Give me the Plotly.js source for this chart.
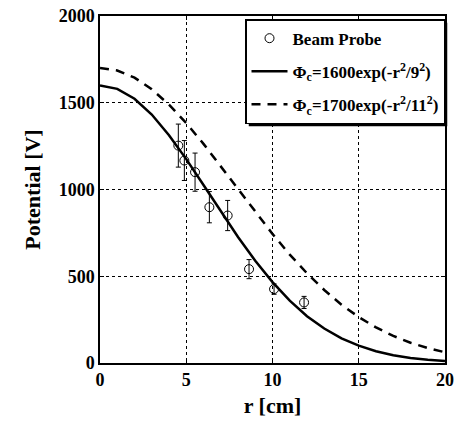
<!DOCTYPE html>
<html><head><meta charset="utf-8">
<script src="https://cdn.plot.ly/plotly-3.0.1.min.js"></script>
<style>
svg text { font-family: "Liberation Serif", "Times New Roman", serif !important; }
</style>
</head><body style="margin:0;background:#fff"><div id="c"></div>
<script>
// Beam probe measurements
const probeR = [4.54, 4.89, 5.51, 6.34, 7.40, 8.64, 10.09, 11.83];
const probeV = [1253, 1167, 1100, 898, 850, 541, 426, 349];
const probeErr = [124, 115, 110, 90, 87, 55, 30, 35];
// Fit curves (read at integer r)
const curveR = [0,1,2,3,4,5,6,7,8,9,10,11,12,13,14,15,16,17,18,19,20];
const fit1 = [1600,1580,1523,1432,1313,1175,1026,874,726,589,466,359,270,199,142,100,68,45,29,19,12];
const fit2 = [1700,1686,1645,1578,1489,1383,1263,1134,1002,870,744,625,517,421,336,265,205,156,117,86,62];
const names = ['<b>Beam Probe</b>',
  '<b>\u03A6<sub>c</sub>=1600exp(-r<sup>2</sup>/9<sup>2</sup>)</b>',
  '<b>\u03A6<sub>c</sub>=1700exp(-r<sup>2</sup>/11<sup>2</sup>)</b>'];
const xTicks = [0,5,10,15,20];
const xTickText = ['0','5','10','15','20'];
const yTicks = [0,500,1000,1500,2000];
const yTickText = ['0','500','1000','1500','2000'];

const FAM = 'Liberation Serif';
const bold = a => a.map(s => '<b>' + s + '</b>');
const traces = [
  {x: probeR, y: probeV, mode: 'markers', name: names[0], legendgroup: 'a',
   marker: {symbol: 'circle-open', size: 9, color: '#000', line: {width: 1, color: '#000'}},
   error_y: {type: 'data', array: probeErr, visible: true, color: '#000', thickness: 1, width: 2.5}},
  {x: curveR, y: fit1, mode: 'lines', name: names[1], legendgroup: 'b', line: {color: '#000', width: 2.5}},
  {x: curveR, y: fit2, mode: 'lines', name: names[2], legendgroup: 'c', line: {color: '#000', width: 2.5, dash: '9px,7px'}}
];
const mk = (extra) => Object.assign({
  showline: true, mirror: 'ticks', linecolor: '#000', linewidth: 1.5,
  ticks: 'inside', ticklen: 4, tickcolor: '#000',
  showgrid: true, gridcolor: '#000', gridwidth: 1, griddash: 'dot',
  zeroline: false, tickfont: {family: FAM, size: 18, color: '#000'}
}, extra);
const layout = {
  width: 460, height: 425,
  margin: {l: 100, r: 15, t: 16, b: 62},
  paper_bgcolor: '#fff', plot_bgcolor: '#fff',
  font: {family: FAM, size: 17, color: '#000'},
  showlegend: true,
  xaxis: mk({range: [0, 20], tickmode: 'array', tickvals: xTicks, ticktext: bold(xTickText),
    title: {text: '<b>r [cm]</b>', font: {family: FAM, size: 22, color: '#000'}, standoff: 8}}),
  yaxis: mk({range: [0, 2000], tickmode: 'array', tickvals: yTicks, ticktext: bold(yTickText),
    title: {text: '<b>Potential [V]</b>', font: {family: FAM, size: 22, color: '#000'}, standoff: 12}}),
  legend: {x: 1, xanchor: 'right', y: 0.991, yanchor: 'top', traceorder: 'grouped',
    bgcolor: '#fff', bordercolor: '#000', borderwidth: 1.5,
    font: {family: FAM, size: 17, color: '#000'}, itemwidth: 36, tracegroupgap: 8},
  shapes: []
};
Plotly.newPlot('c', traces, layout, {displayModeBar: false}).then(gd => {
  gd.querySelectorAll('svg text').forEach(t => t.style.setProperty('font-family', '"Liberation Serif", serif', 'important'));
  const bg = gd.querySelector('.legend .bg');
  if (!bg) return;
  const r = bg.getBoundingClientRect();
  const c = gd.getBoundingClientRect();
  const fs = gd._fullLayout._size;
  const px = v => (v - c.left - fs.l) / fs.w;
  const py = v => 1 - (v - c.top - fs.t) / fs.h;
  const d = 3;
  return Plotly.relayout(gd, {shapes: [{type: 'rect', xref: 'paper', yref: 'paper',
    x0: px(r.left + d), x1: px(r.right + d), y0: py(r.bottom + d), y1: py(r.top + d),
    fillcolor: '#000', line: {width: 0}, layer: 'above'}]}).then(() => {
      gd.querySelectorAll('svg text').forEach(t => t.style.setProperty('font-family', '"Liberation Serif", serif', 'important'));
    });
});
</script></body></html>
